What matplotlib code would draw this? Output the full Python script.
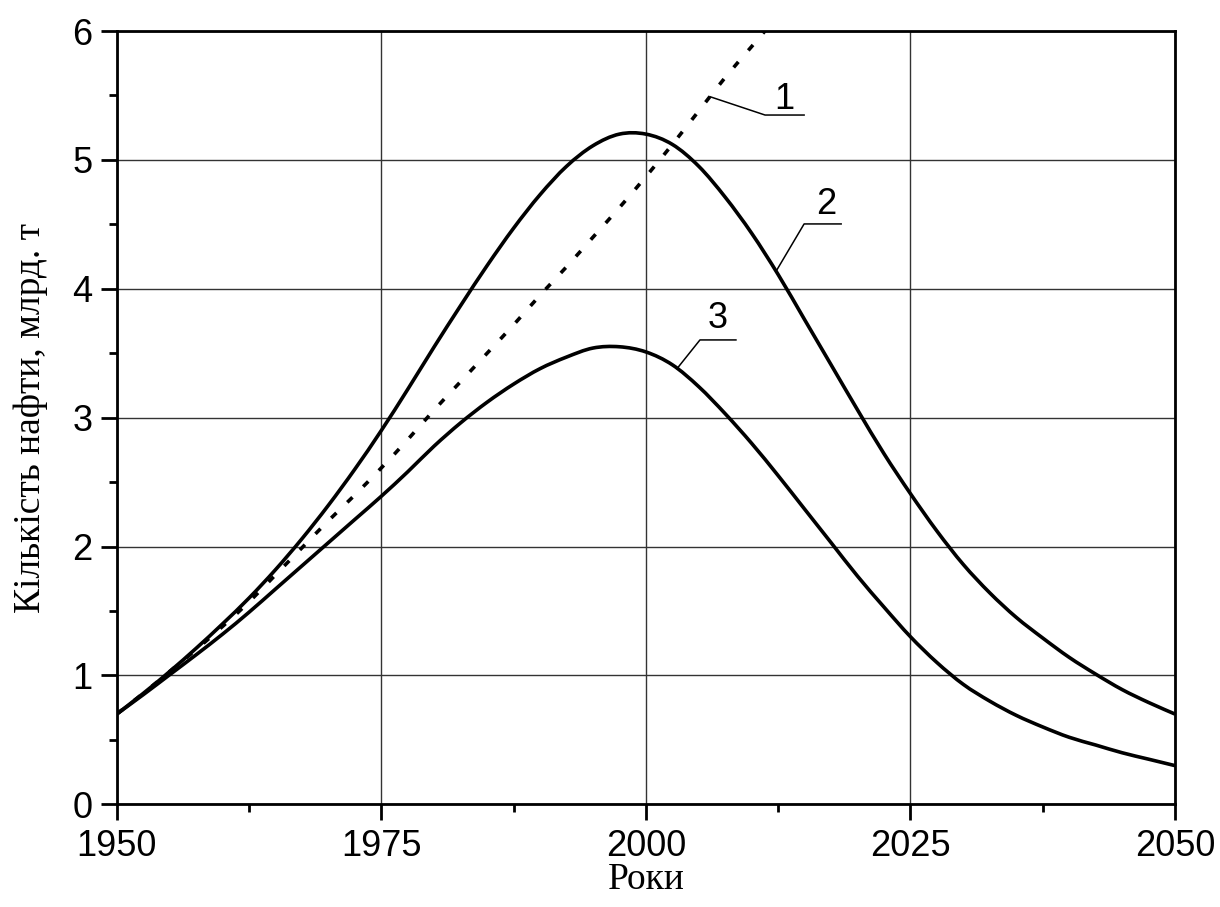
import numpy as np
import matplotlib
matplotlib.use("Agg")
import matplotlib.pyplot as plt
from matplotlib.ticker import MultipleLocator
from matplotlib.path import Path
from matplotlib.patches import PathPatch

# Years sampled every 2.5 years
years = np.arange(1950, 2050.01, 2.5)

# Curve 1: unconstrained growth (dotted)
oil_growth = [0.70, 0.86, 1.03, 1.20, 1.38, 1.57, 1.78, 1.99, 2.20, 2.40,
              2.61, 2.83, 3.06, 3.28, 3.50, 3.72, 3.95, 4.17, 4.40, 4.63,
              4.87, 5.12, 5.38, 5.64, 5.88, 6.12]
years_growth = years[:len(oil_growth)]

# Curve 2: upper production profile
oil_high = [0.70, 0.86, 1.03, 1.21, 1.40, 1.60, 1.82, 2.06, 2.32, 2.60,
            2.90, 3.22, 3.55, 3.87, 4.18, 4.47, 4.73, 4.95, 5.11, 5.20,
            5.20, 5.12, 4.95, 4.71, 4.43, 4.11, 3.76, 3.41, 3.06, 2.72,
            2.41, 2.12, 1.86, 1.64, 1.45, 1.29, 1.14, 1.01, 0.89, 0.79,
            0.70]

# Curve 3: lower production profile
oil_low = [0.70, 0.85, 1.005, 1.16, 1.32, 1.49, 1.67, 1.85, 2.03, 2.21,
           2.39, 2.58, 2.78, 2.96, 3.12, 3.26, 3.38, 3.47, 3.54, 3.55,
           3.51, 3.41, 3.24, 3.03, 2.80, 2.55, 2.29, 2.03, 1.77, 1.53,
           1.30, 1.10, 0.93, 0.80, 0.69, 0.60, 0.52, 0.46, 0.40, 0.35,
           0.30]

x_ticks = [1950, 1975, 2000, 2025, 2050]
y_ticks = [0, 1, 2, 3, 4, 5, 6]
x_label = "Роки"
y_label = "Кількість нафти, млрд. т"
curve_names = ["1", "2", "3"]

SANS = "Liberation Sans"
SERIF = "Liberation Serif"


def spline_path(xs, ys):
    """Smooth connection through the data points (Catmull-Rom as cubic Beziers)."""
    p = np.column_stack([np.asarray(xs, float), np.asarray(ys, float)])
    ext = np.vstack([p[0], p, p[-1]])
    verts = [p[0]]
    codes = [Path.MOVETO]
    for i in range(len(p) - 1):
        p0, p1, p2, p3 = ext[i], ext[i + 1], ext[i + 2], ext[i + 3]
        c1 = p1 + (p2 - p0) / 6.0
        c2 = p2 - (p3 - p1) / 6.0
        verts += [c1, c2, p2]
        codes += [Path.CURVE4] * 3
    return Path(verts, codes)


fig = plt.figure(figsize=(12.2, 9.07), dpi=100)
ax = fig.add_axes([0.09566, 0.11323, 0.8675, 0.85259])

lw = 2.6
ax.add_patch(PathPatch(spline_path(years_growth, oil_growth), fill=False,
                       edgecolor="black", lw=lw, linestyle=(0, (2.0, 4.2)),
                       capstyle="butt", zorder=3))
ax.add_patch(PathPatch(spline_path(years, oil_high), fill=False,
                       edgecolor="black", lw=lw, zorder=3))
ax.add_patch(PathPatch(spline_path(years, oil_low), fill=False,
                       edgecolor="black", lw=lw, zorder=3))

ax.set_xlim(1950, 2050)
ax.set_ylim(0, 6)
ax.set_xticks(x_ticks)
ax.set_yticks(y_ticks)
ax.xaxis.set_minor_locator(MultipleLocator(12.5))
ax.yaxis.set_minor_locator(MultipleLocator(0.5))

ax.grid(True, which="major", color="#333333", linewidth=1.0)
ax.set_axisbelow(True)

for sp in ax.spines.values():
    sp.set_linewidth(2.0)

ax.tick_params(which="major", direction="out", length=11.5, width=2.0,
               labelsize=26, pad=6, top=False, right=False)
ax.tick_params(which="minor", direction="out", length=5.8, width=2.0,
               top=False, right=False)
for lab in ax.get_xticklabels() + ax.get_yticklabels():
    lab.set_fontfamily(SANS)

ax.set_xlabel(x_label, fontfamily=SERIF, fontsize=27)
ax.set_ylabel(y_label, fontfamily=SERIF, fontsize=27)
ax.xaxis.set_label_coords(0.5, -0.075)
ax.yaxis.set_label_coords(-0.065, 0.5)

# Leader lines: anchor year on the curve, elbow, end of shelf, text position
leaders = [
    (years_growth, oil_growth, 2006.06, (2011.26, 5.348), (2014.95, 5.348), (2013.06, 5.465)),
    (years, oil_high, 2012.30, (2014.95, 4.503), (2018.45, 4.503), (2017.03, 4.651)),
    (years, oil_low, 2002.94, (2005.11, 3.603), (2008.51, 3.603), (2006.81, 3.766)),
]
for name, (xs, ys, yr, elbow, end, txt) in zip(curve_names, leaders):
    y0 = np.interp(yr, xs, ys)
    ax.plot([yr, elbow[0], end[0]], [y0, elbow[1], end[1]],
            color="black", lw=1.1, zorder=4)
    ax.text(txt[0], txt[1], name, fontfamily=SANS, fontsize=26,
            ha="center", va="center", zorder=5)

fig.savefig("out.png", dpi=100)
